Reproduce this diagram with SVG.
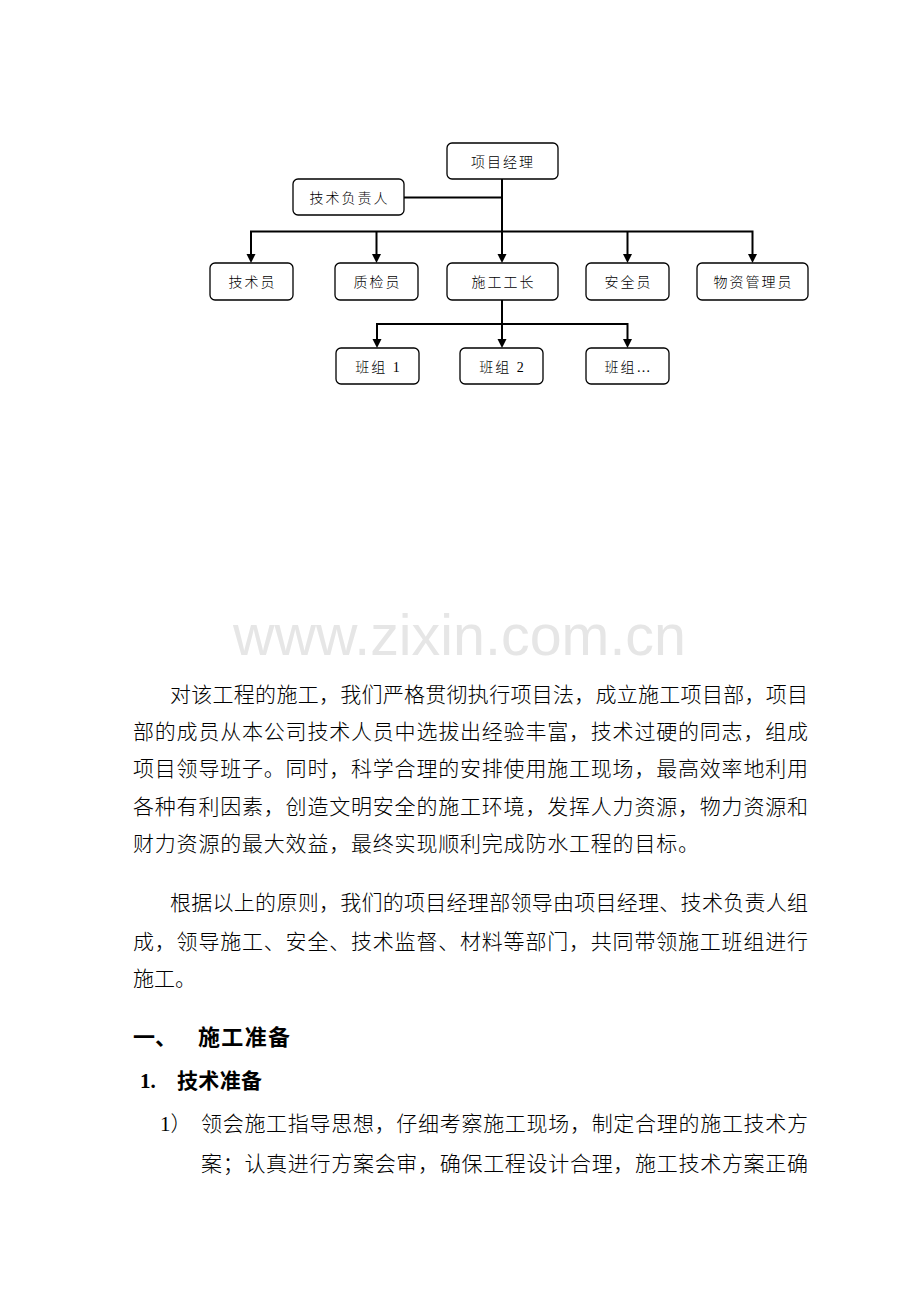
<svg xmlns="http://www.w3.org/2000/svg" width="920" height="1302" viewBox="0 0 920 1302">
<style>
.box{fill:#fff;stroke:#000;stroke-width:1.3}
.lbl{font-family:"Liberation Serif","Noto Sans CJK SC",serif;font-size:14px;font-weight:300;letter-spacing:2px;fill:#000;text-anchor:middle}
.con{fill:none;stroke:#000;stroke-width:2}
.body{font-family:"Liberation Serif","Noto Sans CJK SC",serif;font-size:21px;font-weight:300;fill:#000}
.h{font-family:"Liberation Serif","Noto Sans CJK SC",serif;font-weight:bold;fill:#000}
.wm{font-family:"Liberation Sans",Arial,sans-serif;font-size:57px;fill:#e6e6e6}
</style>
<defs>
<marker id="arr" markerUnits="userSpaceOnUse" markerWidth="10" markerHeight="10" refX="0" refY="5" orient="auto">
<path d="M0,0.5 L9,5 L0,9.5 z" fill="#000"/>
</marker>
</defs>
<rect width="920" height="1302" fill="#fff"/>

<g id="connectors">
<path class="con" d="M502,179 V254" marker-end="url(#arr)"/>
<path class="con" d="M404,197.5 H502"/>
<path class="con" d="M251,254 V231.5 H752.5 V254" marker-end="url(#arr)"/>
<path class="con" d="M251,232 V254" marker-end="url(#arr)"/>
<path class="con" d="M376.5,231.5 V254" marker-end="url(#arr)"/>
<path class="con" d="M627.5,231.5 V254" marker-end="url(#arr)"/>
<path class="con" d="M502,300 V339" marker-end="url(#arr)"/>
<path class="con" d="M377,339 V324 H627.5 V339" marker-end="url(#arr)"/>
<path class="con" d="M377,325 V339" marker-end="url(#arr)"/>
</g>

<g id="n-pm"><rect class="box" x="447" y="143" width="111" height="36" rx="5"/><text class="lbl" x="503" y="167">项目经理</text></g>
<g id="n-tech-lead"><rect class="box" x="293" y="179" width="111" height="36" rx="5"/><text class="lbl" x="349.5" y="203">技术负责人</text></g>
<g id="n-tech"><rect class="box" x="210" y="263" width="83" height="37" rx="5"/><text class="lbl" x="252.5" y="287">技术员</text></g>
<g id="n-qc"><rect class="box" x="335" y="263" width="83" height="37" rx="5"/><text class="lbl" x="377.5" y="287">质检员</text></g>
<g id="n-foreman"><rect class="box" x="447" y="263" width="111" height="37" rx="5"/><text class="lbl" x="503.5" y="287">施工工长</text></g>
<g id="n-safety"><rect class="box" x="586" y="263" width="83" height="37" rx="5"/><text class="lbl" x="628.5" y="287">安全员</text></g>
<g id="n-material"><rect class="box" x="697" y="263" width="111" height="37" rx="5"/><text class="lbl" x="753.5" y="287">物资管理员</text></g>
<g id="n-team1"><rect class="box" x="336" y="348" width="83" height="36" rx="5"/><text class="lbl" x="378.5" y="372">班组 1</text></g>
<g id="n-team2"><rect class="box" x="460" y="348" width="83" height="36" rx="5"/><text class="lbl" x="502.5" y="372">班组 2</text></g>
<g id="n-team3"><rect class="box" x="586" y="348" width="83" height="36" rx="5"/><text class="lbl" x="628.5" y="372">班组…</text></g>

<text class="wm" x="233" y="655" textLength="453" lengthAdjust="spacingAndGlyphs">www.zixin.com.cn</text>

<g id="body">
<text class="body" x="170" y="702" textLength="638" lengthAdjust="spacing">对该工程的施工，我们严格贯彻执行项目法，成立施工项目部，项目</text>
<text class="body" x="133" y="739" textLength="675" lengthAdjust="spacing">部的成员从本公司技术人员中选拔出经验丰富，技术过硬的同志，组成</text>
<text class="body" x="133" y="776" textLength="675" lengthAdjust="spacing">项目领导班子。同时，科学合理的安排使用施工现场，最高效率地利用</text>
<text class="body" x="133" y="814" textLength="675" lengthAdjust="spacing">各种有利因素，创造文明安全的施工环境，发挥人力资源，物力资源和</text>
<text class="body" x="133" y="851" textLength="566" lengthAdjust="spacing">财力资源的最大效益，最终实现顺利完成防水工程的目标。</text>
<text class="body" x="170" y="910" textLength="638" lengthAdjust="spacing">根据以上的原则，我们的项目经理部领导由项目经理、技术负责人组</text>
<text class="body" x="133" y="949" textLength="675" lengthAdjust="spacing">成，领导施工、安全、技术监督、材料等部门，共同带领施工班组进行</text>
<text class="body" x="133" y="986">施工。</text>
<text class="h" x="133" y="1045" font-size="22">一、</text>
<text class="h" x="198" y="1045" font-size="22" textLength="92" lengthAdjust="spacing">施工准备</text>
<text class="h" x="140" y="1088" font-size="21">1.</text>
<text class="h" x="177" y="1088" font-size="21" textLength="85" lengthAdjust="spacing">技术准备</text>
<text class="body" x="160" y="1131" font-size="16">1）</text>
<text class="body" x="201" y="1131" textLength="607" lengthAdjust="spacing">领会施工指导思想，仔细考察施工现场，制定合理的施工技术方</text>
<text class="body" x="201" y="1171" textLength="607" lengthAdjust="spacing">案；认真进行方案会审，确保工程设计合理，施工技术方案正确</text>
</g>
</svg>
